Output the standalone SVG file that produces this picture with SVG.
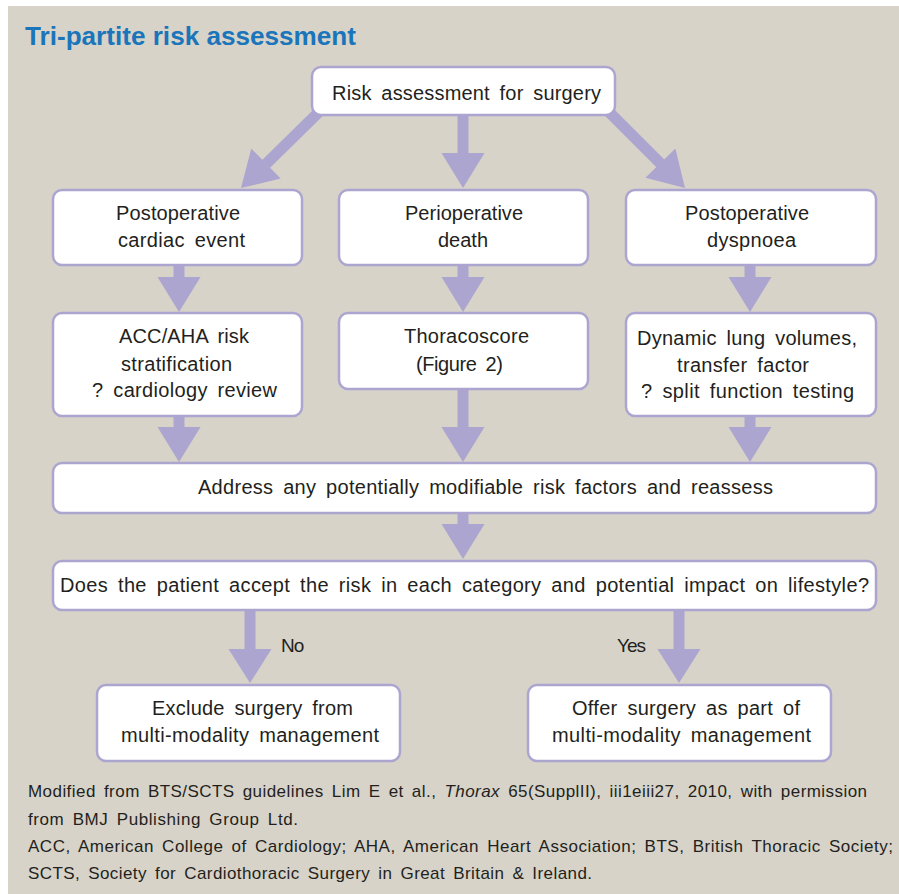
<svg xmlns="http://www.w3.org/2000/svg" width="899" height="894" viewBox="0 0 899 894">
<style>
.bg{fill:#d7d3c8}
.box{fill:#ffffff;stroke:#aca5d0;stroke-width:2.5}
.t{font-family:"Liberation Sans",Arial,sans-serif;font-size:20px;fill:#231f20;text-anchor:middle;word-spacing:4px}
.lbl{font-family:"Liberation Sans",Arial,sans-serif;font-size:19px;fill:#231f20;letter-spacing:-1px}
.title{font-family:"Liberation Sans",Arial,sans-serif;font-size:26px;font-weight:bold;fill:#1b75bb}
.fn{font-family:"Liberation Sans",Arial,sans-serif;font-size:17px;fill:#231f20;word-spacing:3px}
.shaft{stroke:#aca5d0;stroke-width:11;fill:none}
.head{fill:#aca5d0}
</style>
<rect class="bg" x="8" y="6" width="891" height="888"/>
<text class="title" x="25" y="45" textLength="331" lengthAdjust="spacingAndGlyphs">Tri-partite risk assessment</text>

<g id="connectors">
  <line class="shaft" x1="322" y1="109" x2="266" y2="164"/>
  <polygon class="head" points="280.7,178.6 251.3,148.6 241,188"/>
  <line class="shaft" x1="463" y1="110" x2="463" y2="154"/>
  <polygon class="head" points="441.5,153 484.5,153 463,188"/>
  <line class="shaft" x1="606" y1="109" x2="661" y2="164"/>
  <polygon class="head" points="675.4,148.4 645.4,177.8 685,188"/>
  <line class="shaft" x1="179" y1="262" x2="179" y2="278"/>
  <polygon class="head" points="157.5,277 200.5,277 179,312"/>
  <line class="shaft" x1="463" y1="262" x2="463" y2="278"/>
  <polygon class="head" points="441.5,277 484.5,277 463,312"/>
  <line class="shaft" x1="750" y1="262" x2="750" y2="278"/>
  <polygon class="head" points="728.5,277 771.5,277 750,312"/>
  <line class="shaft" x1="179" y1="412" x2="179" y2="428"/>
  <polygon class="head" points="157.5,427 200.5,427 179,462"/>
  <line class="shaft" x1="463" y1="385" x2="463" y2="428"/>
  <polygon class="head" points="441.5,427 484.5,427 463,462"/>
  <line class="shaft" x1="750" y1="412" x2="750" y2="428"/>
  <polygon class="head" points="728.5,427 771.5,427 750,462"/>
  <line class="shaft" x1="463" y1="509" x2="463" y2="525"/>
  <polygon class="head" points="441.5,524 484.5,524 463,559"/>
  <line class="shaft" x1="250" y1="606" x2="250" y2="650"/>
  <polygon class="head" points="228.5,649 271.5,649 250,683"/>
  <line class="shaft" x1="679" y1="606" x2="679" y2="650"/>
  <polygon class="head" points="657.5,649 700.5,649 679,683"/>
  <text class="lbl" x="281" y="652">No</text>
  <text class="lbl" x="617" y="652">Yes</text>
</g>

<g id="n-risk">
  <rect class="box" x="312" y="67" width="303" height="48" rx="9"/>
  <text class="t" x="466.5" y="100" textLength="269">Risk assessment for surgery</text>
</g>
<g id="n-cardiac">
  <rect class="box" x="53" y="190" width="249" height="75" rx="9"/>
  <text class="t" x="178" y="220" textLength="124">Postoperative</text>
  <text class="t" x="181.5" y="247" textLength="127">cardiac event</text>
</g>
<g id="n-death">
  <rect class="box" x="339" y="190" width="249" height="75" rx="9"/>
  <text class="t" x="464" y="220" textLength="118">Perioperative</text>
  <text class="t" x="463" y="247">death</text>
</g>
<g id="n-dyspnoea">
  <rect class="box" x="626" y="190" width="250" height="75" rx="9"/>
  <text class="t" x="747" y="220" textLength="124">Postoperative</text>
  <text class="t" x="751.5" y="247" textLength="89">dyspnoea</text>
</g>
<g id="n-acc">
  <rect class="box" x="53" y="313" width="249" height="103" rx="9"/>
  <text class="t" x="184" y="343" textLength="130">ACC/AHA risk</text>
  <text class="t" x="176.5" y="371" textLength="111">stratification</text>
  <text class="t" x="184.5" y="397" textLength="185">? cardiology review</text>
</g>
<g id="n-thoracoscore">
  <rect class="box" x="339" y="313" width="249" height="76" rx="9"/>
  <text class="t" x="466.5" y="343" textLength="125">Thoracoscore</text>
  <text class="t" x="459.5" y="371" textLength="87">(Figure 2)</text>
</g>
<g id="n-lung">
  <rect class="box" x="626" y="313" width="250" height="103" rx="9"/>
  <text class="t" x="747" y="345" textLength="220">Dynamic lung volumes,</text>
  <text class="t" x="743" y="372" textLength="132">transfer factor</text>
  <text class="t" x="747.5" y="398" textLength="213">? split function testing</text>
</g>
<g id="n-address">
  <rect class="box" x="53" y="463" width="823" height="50" rx="9"/>
  <text class="t" x="485.5" y="494" textLength="575">Address any potentially modifiable risk factors and reassess</text>
</g>
<g id="n-accept">
  <rect class="box" x="53" y="561" width="823" height="49" rx="9"/>
  <text class="t" x="464.5" y="592" textLength="809">Does the patient accept the risk in each category and potential impact on lifestyle?</text>
</g>
<g id="n-exclude">
  <rect class="box" x="97" y="685" width="303" height="76" rx="9"/>
  <text class="t" x="252.5" y="715" textLength="201">Exclude surgery from</text>
  <text class="t" x="250" y="742" textLength="258">multi-modality management</text>
</g>
<g id="n-offer">
  <rect class="box" x="528" y="685" width="303" height="76" rx="9"/>
  <text class="t" x="686" y="715" textLength="228">Offer surgery as part of</text>
  <text class="t" x="681.5" y="742" textLength="259">multi-modality management</text>
</g>

<g id="footnote">
  <text class="fn" x="28" y="797" textLength="839">Modified from BTS/SCTS guidelines Lim E et al., <tspan font-style="italic">Thorax</tspan> 65(SupplII), iii1eiii27, 2010, with permission</text>
  <text class="fn" x="28" y="824.5" textLength="270">from BMJ Publishing Group Ltd.</text>
  <text class="fn" x="28" y="852" textLength="865">ACC, American College of Cardiology; AHA, American Heart Association; BTS, British Thoracic Society;</text>
  <text class="fn" x="28" y="879" textLength="564">SCTS, Society for Cardiothoracic Surgery in Great Britain &amp; Ireland.</text>
</g>
</svg>
